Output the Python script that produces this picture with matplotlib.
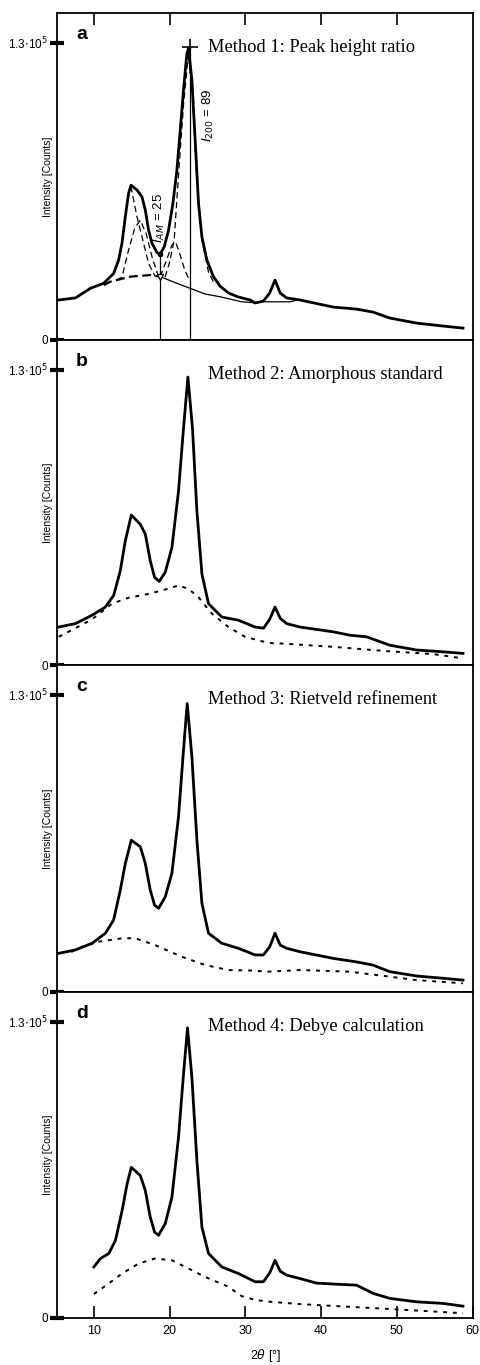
import matplotlib.pyplot as plt

plt.rcParams['font.family'] = ['Liberation Sans', 'DejaVu Sans']

# ---- panel a: peak height ratio ----
tt_a = [5.36, 7.56, 9.54, 11.29, 12.61, 13.27, 13.71, 14.15, 14.58, 14.90, 15.69, 16.35,
        16.79, 17.22, 17.67, 18.33, 18.76, 19.29, 19.86, 20.43, 20.96, 21.40, 21.83, 22.28,
        22.49, 22.94, 23.37, 23.81, 24.26, 24.91, 25.78, 26.67, 27.80, 29.08, 30.62, 31.28,
        32.37, 33.20, 33.91, 34.60, 35.45, 37.21, 41.59, 44.68, 46.86, 49.06, 52.58, 56.09,
        58.72]
int_a = [17500, 18400, 22600, 24800, 29100, 35000, 42300, 53900, 64100, 67700, 65600, 62600,
         56800, 48100, 42300, 38200, 37600, 40800, 48100, 59700, 74300, 91800, 109300, 125300,
         127500, 113600, 87400, 59700, 45100, 35000, 27700, 23500, 20500, 18800, 17500, 16200,
         17000, 20500, 26200, 20500, 18400, 17500, 14400, 13500, 12200, 9600, 7400, 6100,
         5200]
# amorphous hump (dashed) and background (solid)
tt_a_amo = [11.3, 12.17, 14.81, 17.44, 18.76]
int_a_amo = [24000, 25500, 27700, 28400, 27700]
tt_a_bg = [18.76, 20.96, 22.71, 24.69, 26.67, 29.53, 31.28, 32.37, 35.88, 36.9]
int_a_bg = [27700, 24800, 22600, 20100, 18900, 16700, 16300, 16700, 16700, 17500]
# fitted crystalline peaks
tt_p1 = [11.5, 12.61, 13.27, 13.71, 14.15, 14.58, 14.90, 15.69, 16.35, 17.22, 18.10]
int_p1 = [25500, 29100, 35000, 42300, 53900, 64100, 67000, 53900, 45100, 33500, 27700]
tt_p2 = [13.0, 13.71, 14.58, 15.40, 16.13, 16.90, 17.67, 18.54]
int_p2 = [26200, 27500, 39300, 49000, 52400, 46500, 36400, 27500]
tt_p3 = [18.76, 19.60, 20.30, 20.80, 21.40, 22.00, 22.60]
int_p3 = [27700, 35000, 41500, 42800, 37100, 30600, 26200]
tt_p4 = [19.4, 20.0, 20.6, 21.17, 21.83, 22.49, 23.02, 23.6, 24.26, 25.13, 26.0]
int_p4 = [27500, 34100, 43700, 72100, 102700, 125400, 106200, 69900, 43700, 29700, 24000]
tt_am, int_am = 18.70, 37600
tt_200, int_200 = 22.71, 128000

# ---- panel b: amorphous standard ----
tt_b = [5.36, 7.56, 9.76, 11.52, 12.61, 13.49, 14.15, 14.94, 16.13, 16.79, 17.44, 18.01,
        18.63, 19.42, 20.30, 21.17, 21.83, 22.41, 23.02, 23.60, 24.26, 25.13, 26.89, 29.08,
        31.28, 32.40, 33.20, 33.91, 34.60, 35.45, 37.21, 41.59, 43.80, 46.00, 49.06, 52.58,
        56.09, 58.72]
int_b = [16700, 18200, 21900, 25500, 30600, 41500, 54600, 66000, 61900, 57600, 45900, 38600,
         36800, 40800, 51700, 76500, 104100, 126700, 104000, 67700, 40100, 27000, 21100, 19700,
         16700, 16200, 20100, 25500, 20500, 18200, 16700, 14600, 13100, 12400, 8700, 6600,
         5800, 5100]
tt_b_amo = [5.36, 7.56, 9.76, 12.40, 14.59, 17.22, 18.99, 21.17, 22.49, 23.81, 25.57, 27.76,
            29.96, 33.03, 35.0, 41.59, 48.2, 54.8, 58.72]
int_b_amo = [12400, 16200, 20100, 27000, 29600, 31300, 32800, 35000, 33500, 29800, 22600, 16700,
             12400, 9700, 9400, 8000, 6200, 4800, 2900]

# ---- panel c: Rietveld refinement ----
tt_c = [5.36, 7.56, 9.76, 11.52, 12.61, 13.49, 14.15, 14.94, 16.13, 16.79, 17.44, 18.01,
        18.54, 19.42, 20.30, 21.17, 21.83, 22.32, 22.94, 23.60, 24.26, 25.13, 26.89, 29.08,
        31.28, 32.37, 33.20, 33.91, 34.60, 35.45, 37.21, 41.59, 44.60, 46.80, 49.06, 52.58,
        56.09, 58.72]
int_c = [16900, 18400, 21300, 25700, 31500, 44600, 56200, 66400, 63500, 56200, 44600, 38000,
         36600, 41600, 51900, 76600, 105800, 126200, 102800, 66400, 38800, 25700, 21300, 19100,
         16200, 16200, 19700, 25700, 20500, 19100, 17600, 14700, 13200, 11800, 8900, 7000,
         6000, 5200]
tt_c_amo = [7.0, 8.45, 10.63, 13.72, 15.47, 18.10, 21.62, 24.69, 27.76, 30.6, 33.03, 37.21,
            43.7, 49.06, 52.58, 58.72]
int_c_amo = [17500, 19800, 22000, 23500, 23500, 20500, 15400, 11800, 9600, 9400, 8900, 9600,
             8900, 6700, 5200, 3800]

# ---- panel d: Debye calculation ----
tt_d = [10.0, 10.88, 11.98, 12.85, 13.73, 14.39, 14.94, 16.13, 16.79, 17.44, 18.01, 18.54,
        19.42, 20.30, 21.17, 21.83, 22.36, 22.94, 23.60, 24.26, 25.13, 26.89, 29.08, 31.28,
        32.37, 33.20, 33.91, 34.60, 35.45, 37.21, 39.40, 41.59, 44.68, 46.86, 49.06, 52.58,
        56.09, 58.72]
int_d = [22400, 26100, 28300, 34100, 47200, 58900, 66100, 62500, 55900, 44300, 37700, 36300,
         41400, 53000, 79200, 106900, 127300, 105400, 69000, 39900, 28300, 22400, 19500, 15900,
         15900, 19700, 25300, 20500, 18800, 17300, 15300, 14900, 14400, 10800, 8600, 7100,
         6400, 5200]
tt_d_amo = [10.0, 11.98, 13.73, 15.92, 18.10, 20.30, 22.49, 24.69, 27.76, 29.5, 31.3, 33.0,
            37.2, 43.8, 49.9, 58.72]
int_d_amo = [10500, 15200, 19500, 23900, 26100, 25300, 21700, 18000, 13700, 9600, 7900, 7200,
             6100, 4900, 3800, 2100]

letters = ['a', 'b', 'c', 'd']
methods = ['Method 1: Peak height ratio', 'Method 2: Amorphous standard',
           'Method 3: Rietveld refinement', 'Method 4: Debye calculation']
xticks = [10, 20, 30, 40, 50, 60]

W, H = 481, 1365
fig = plt.figure(figsize=(W / 100, H / 100), dpi=100)
# panel pixel extents (top, bottom)
extents = [(13, 340), (340, 665), (665, 992), (992, 1318)]
x0, x1 = 57.5, 472.7

axs = []
for top, bot in extents:
    ax = fig.add_axes([x0 / W, 1 - bot / H, (x1 - x0) / W, (bot - top) / H])
    axs.append(ax)

dotted = (0, (2, 3))
for i, ax in enumerate(axs):
    ax.set_xlim(5.2, 60)
    ax.set_ylim(0, 1.43e5)
    for s in ax.spines.values():
        s.set_linewidth(1.3)
    ax.set_yticks([0, 1.3e5])
    ax.set_yticklabels(['0', r'1.3$\cdot$10$^5$'], fontsize=8.5)
    ax.tick_params(axis='y', direction='inout', length=10, width=3, pad=2)
    ax.set_ylabel('Intensity [Counts]', fontsize=7.5)
    ax.yaxis.set_label_coords(-0.012, 0.5)
    ax.text(0.045, 0.935, letters[i], transform=ax.transAxes, fontsize=14,
            fontweight='bold', ha='left', va='center')
    ax.text(25.1, 1.28e5, methods[i], family=['Liberation Serif', 'DejaVu Serif'],
            fontsize=13.3, ha='left', va='center')
    ax.set_xticks(xticks)
    if i == 0:
        ax.tick_params(axis='x', bottom=False, top=True, labelbottom=False,
                       direction='in', length=8.5, width=1.2)
        ax.set_xticks([10, 20, 30, 40, 50])
    elif i == 3:
        ax.tick_params(axis='x', direction='in', length=8.5, width=1.2, labelsize=9, pad=5)
        ax.set_xlabel(r'2$\theta$ [°]', fontsize=9, labelpad=7)
    else:
        ax.tick_params(axis='x', bottom=False, labelbottom=False)

ax = axs[0]
ax.plot(tt_a, int_a, color='black', lw=2.0)
ax.plot(tt_a_amo, int_a_amo, color='black', lw=1.6, ls=(0, (4, 2)))
ax.plot(tt_a_bg, int_a_bg, color='black', lw=0.9)
for tt, ii in [(tt_p1, int_p1), (tt_p2, int_p2), (tt_p3, int_p3), (tt_p4, int_p4)]:
    ax.plot(tt, ii, color='black', lw=0.9, ls=(0, (5, 3)))
ax.plot([tt_am, tt_am], [0, int_am], color='black', lw=0.9)
ax.plot([tt_200, tt_200], [0, int_200], color='black', lw=0.9)
ax.plot([tt_200], [int_200], marker='+', ms=11, mew=1.2, color='black')
ax.plot([tt_am], [int_am], marker='o', ms=3, color='black')
ax.plot([tt_am], [int_a_amo[-1]], marker='v', ms=5, mfc='white', mec='black', mew=0.9)
ax.text(18.6, 53500, r'$I_{AM}$ = 25', rotation=90, fontsize=9.5, ha='center', va='center')
ax.text(25.15, 98300, r'$I_{200}$ = 89', rotation=90, fontsize=9.5, ha='center', va='center')

axs[1].plot(tt_b, int_b, color='black', lw=2.0)
axs[1].plot(tt_b_amo, int_b_amo, color='black', lw=1.4, ls=dotted)

axs[2].plot(tt_c, int_c, color='black', lw=2.0)
axs[2].plot(tt_c_amo, int_c_amo, color='black', lw=1.4, ls=dotted)

axs[3].plot(tt_d, int_d, color='black', lw=2.0)
axs[3].plot(tt_d_amo, int_d_amo, color='black', lw=1.4, ls=dotted)

fig.savefig('out.png', dpi=100)
